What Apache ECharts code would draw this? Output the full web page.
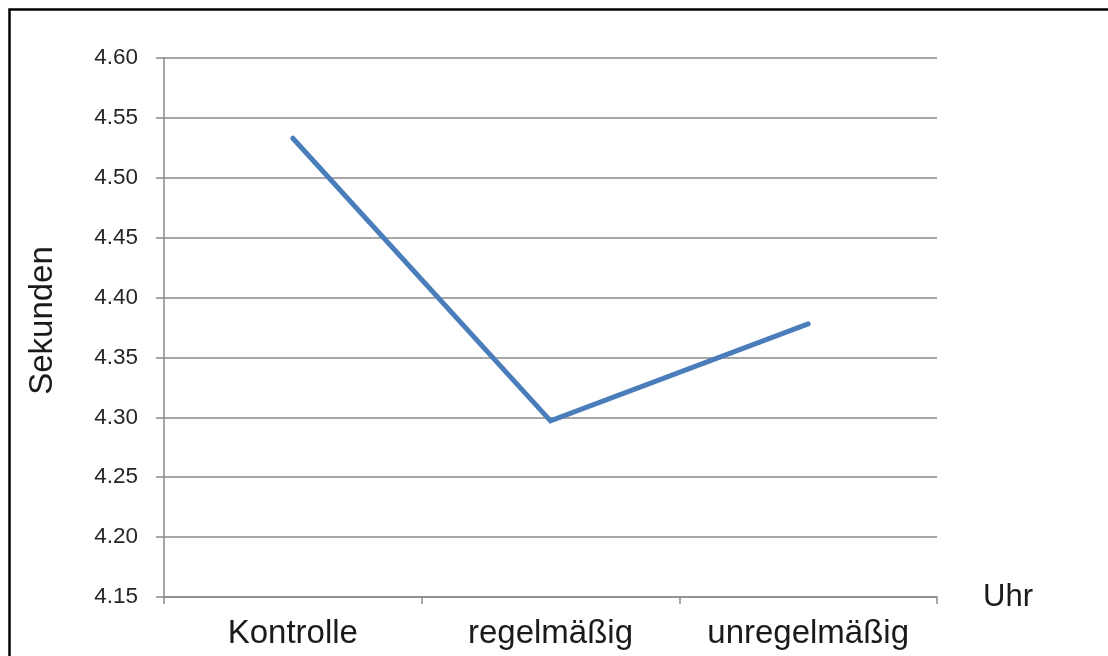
<!DOCTYPE html>
<html>
<head>
<meta charset="utf-8">
<script src="https://cdn.jsdelivr.net/npm/echarts@6/dist/echarts.min.js"></script>
<style>
html,body{margin:0;padding:0;background:#fff;}
#c{width:1108px;height:656px;}
</style>
</head>
<body>
<div id="c"></div>
<script>
const categories = ['Kontrolle', 'regelmäßig', 'unregelmäßig'];
const values = [4.533, 4.297, 4.378];
const yMin = 4.15, yMax = 4.60, yStep = 0.05;
const xName = 'Uhr';
const yName = 'Sekunden';

const chart = echarts.init(document.getElementById('c'), null, {renderer: 'canvas'});
const gray = '#8a8a8a';
chart.setOption({
  animation: false,
  backgroundColor: '#fff',
  textStyle: {fontFamily: 'Liberation Sans, Arial, sans-serif'},
  graphic: [{
    type: 'rect', left: 7, top: 7,
    shape: {x: 0, y: 0, width: 1300, height: 900},
    style: {fill: 'none', stroke: '#000', lineWidth: 2.5}, silent: true
  }],
  grid: {left: 164, right: 171, top: 58, bottom: 59, containLabel: false},
  xAxis: {
    type: 'category', data: categories, boundaryGap: true,
    name: xName, nameLocation: 'end', nameGap: 46,
    nameTextStyle: {fontSize: 31, color: '#1a1a1a'},
    axisLine: {lineStyle: {color: gray, width: 1.5}},
    axisTick: {show: true, interval: 0, length: 7, lineStyle: {color: gray, width: 1.5}},
    axisLabel: {fontSize: 33, color: '#1a1a1a', margin: 20, interval: 0, hideOverlap: false}
  },
  yAxis: {
    type: 'value', min: yMin, max: yMax, interval: yStep,
    name: yName, nameLocation: 'middle', nameGap: 105, nameRotate: 90,
    nameTextStyle: {fontSize: 33, color: '#1a1a1a', padding: [0, 0, 0, 14]},
    axisLine: {show: true, lineStyle: {color: gray, width: 1.5}},
    axisTick: {show: true, length: 8, lineStyle: {color: gray, width: 1.5}},
    axisLabel: {fontSize: 22.5, color: '#262626', margin: 26,
      formatter: v => v.toFixed(2)},
    splitLine: {show: true, lineStyle: {color: gray, width: 1.5}}
  },
  series: [{
    type: 'line', data: values, symbol: 'none',
    lineStyle: {color: '#4A7EBB', width: 5, cap: 'round', join: 'miter'}
  }]
});
</script>
</body>
</html>
